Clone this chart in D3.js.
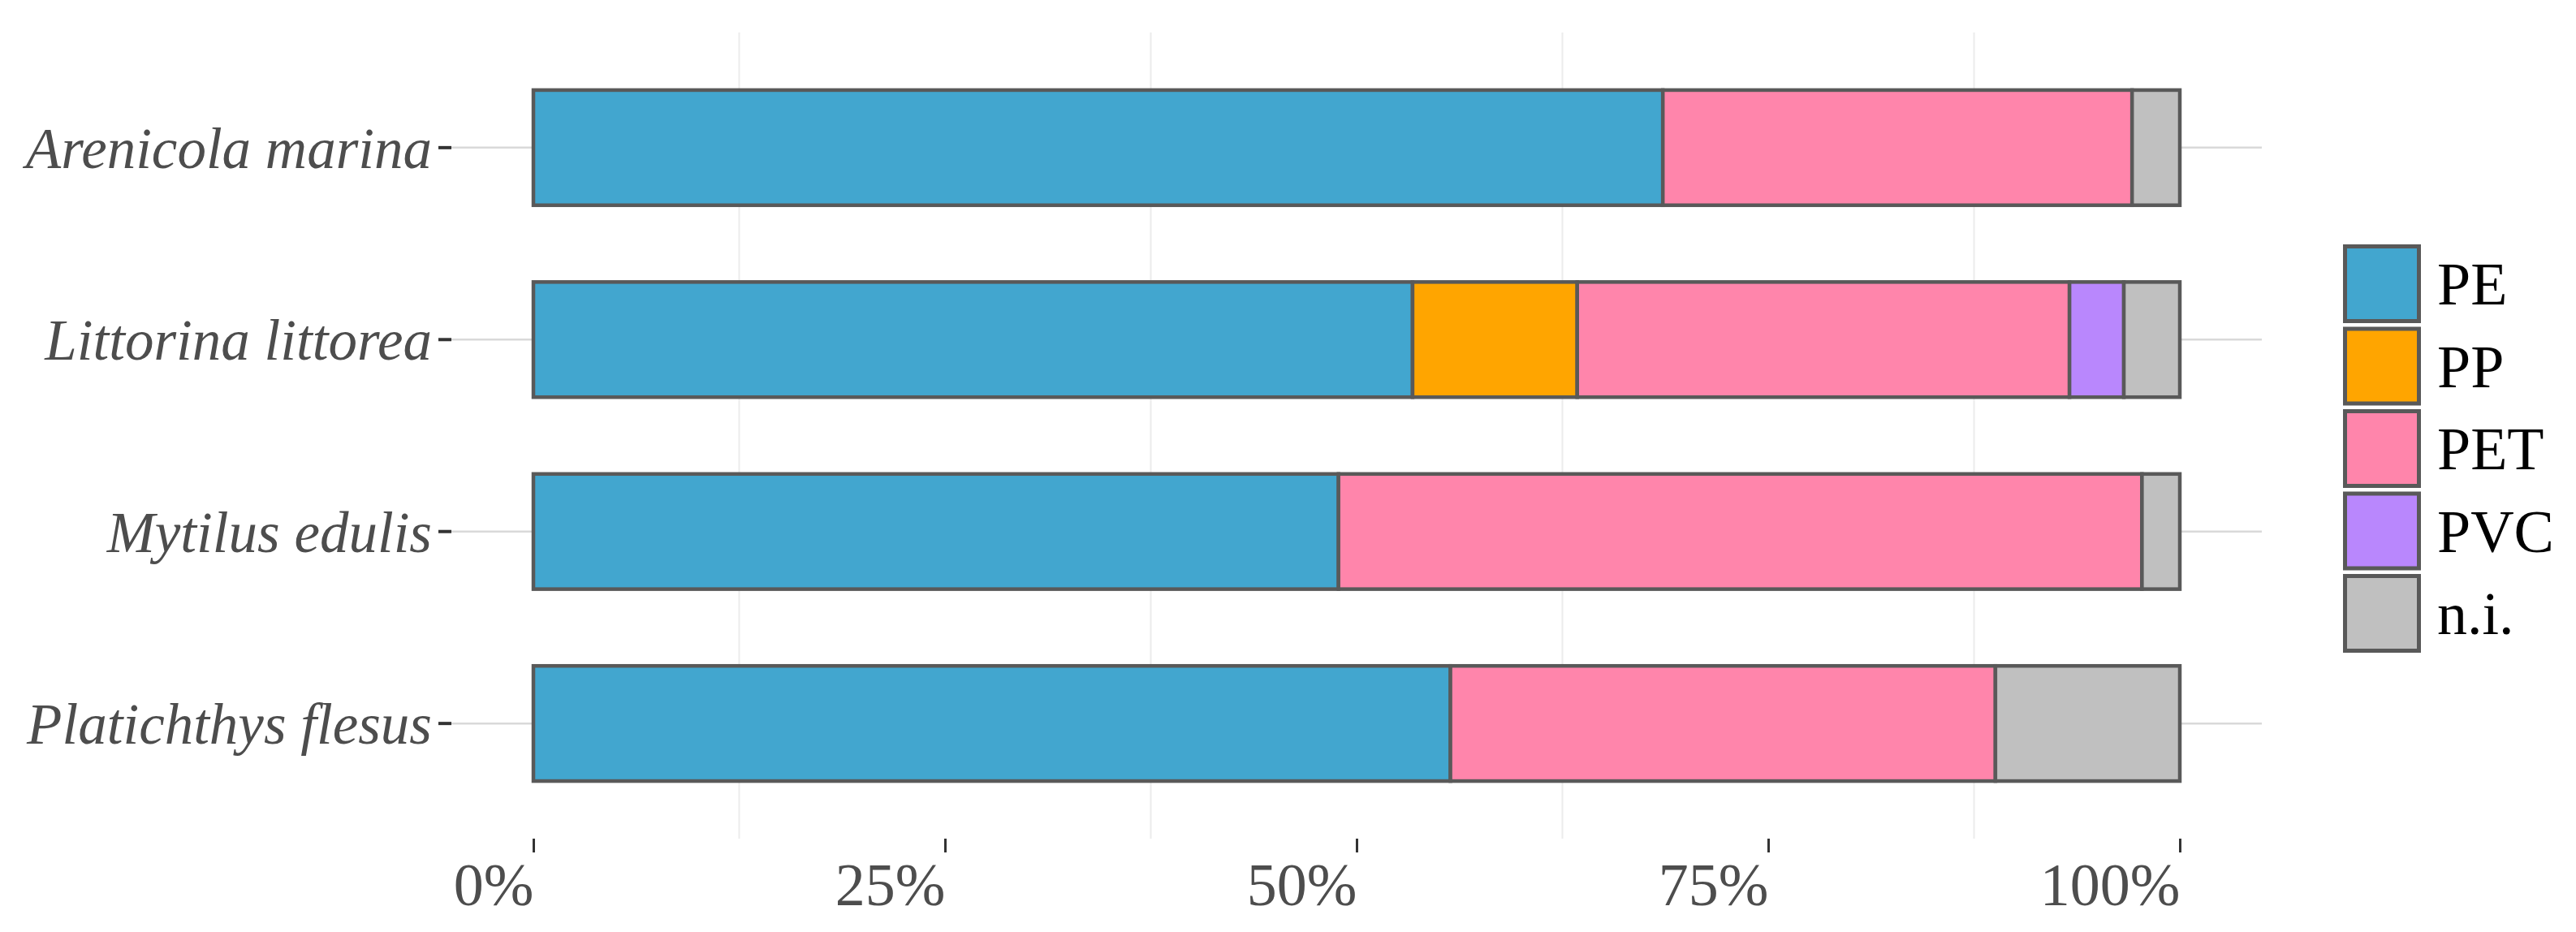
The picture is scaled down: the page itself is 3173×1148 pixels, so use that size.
<!DOCTYPE html>
<html>
<head>
<meta charset="utf-8">
<script src="https://cdn.jsdelivr.net/npm/d3@7"></script>
<style>
  html, body { margin: 0; padding: 0; background: #fff; }
  svg { display: block; }
</style>
</head>
<body>
<svg id="chart" width="3173" height="1148"></svg>
<script>
// ---- Data ----
const species = ["Arenicola marina", "Littorina littorea", "Mytilus edulis", "Platichthys flesus"];
const polymers = ["PE", "PP", "PET", "PVC", "n.i."];
const PE  = [68.6, 53.4, 48.9, 55.7];
const PP  = [0.0, 10.0, 0.0, 0.0];
const PET = [28.5, 29.9, 48.8, 33.1];
const PVC = [0.0, 3.3, 0.0, 0.0];
const NI  = [2.9, 3.4, 2.3, 11.2];
const xTicks = [0, 0.25, 0.5, 0.75, 1];
const minorTicks = [0.125, 0.375, 0.625, 0.875];
const colors = ["#42a6cf", "#ffa500", "#ff85ab", "#b987fd", "#c0c0c0"];

const seriesValues = [PE, PP, PET, PVC, NI];
const rows = species.map((s, i) => {
  const r = { species: s };
  polymers.forEach((p, j) => { r[p] = seriesValues[j][i]; });
  return r;
});

// ---- Layout ----
const svg = d3.select("#chart");
const panel = { left: 556, right: 2786, top: 40, bottom: 1033 };

const x = d3.scaleLinear().domain([0, 100]).range([657, 2685]);
const y = d3.scaleBand().domain(species).range([panel.top, panel.bottom])
  .paddingInner(0.4).paddingOuter(0.3);
const color = d3.scaleOrdinal().domain(polymers).range(colors);

// grid: minor verticals
svg.append("g").selectAll("line").data(minorTicks).join("line")
  .attr("x1", d => x(d * 100)).attr("x2", d => x(d * 100))
  .attr("y1", panel.top).attr("y2", panel.bottom)
  .attr("stroke", "#ececec").attr("stroke-width", 2);

// grid: horizontal at categories
svg.append("g").selectAll("line").data(species).join("line")
  .attr("x1", panel.left).attr("x2", panel.right)
  .attr("y1", d => y(d) + y.bandwidth() / 2).attr("y2", d => y(d) + y.bandwidth() / 2)
  .attr("stroke", "#d9d9d9").attr("stroke-width", 2.5);

// stacked bars
const stack = d3.stack().keys(polymers);
const stacked = stack(rows);
const gBars = svg.append("g");
stacked.forEach(layer => {
  gBars.append("g").selectAll("rect")
    .data(layer.filter(d => d[1] - d[0] > 0))
    .join("rect")
    .attr("x", d => x(d[0]))
    .attr("width", d => x(d[1]) - x(d[0]))
    .attr("y", d => y(d.data.species))
    .attr("height", y.bandwidth())
    .attr("fill", color(layer.key))
    .attr("stroke", "#595959")
    .attr("stroke-width", 4.5);
});

// x axis
const xAxis = d3.axisBottom(x)
  .tickValues(xTicks.map(v => v * 100))
  .tickFormat(d => d + "%")
  .tickSize(17);
const gx = svg.append("g").attr("transform", `translate(0,${panel.bottom})`).call(xAxis);
gx.select(".domain").remove();
gx.selectAll(".tick line").attr("stroke", "#333").attr("stroke-width", 3);
gx.selectAll(".tick text")
  .attr("y", 82).attr("dy", 0)
  .attr("text-anchor", "end")
  .attr("fill", "#4d4d4d")
  .style("font-family", "'Liberation Serif', serif")
  .style("font-size", "74px");

// y axis
const yAxis = d3.axisLeft(y).tickSize(16).tickPadding(8);
const gy = svg.append("g").attr("transform", `translate(${panel.left},0)`).call(yAxis);
gy.select(".domain").remove();
gy.selectAll(".tick line").attr("stroke", "#333").attr("stroke-width", 4);
gy.selectAll(".tick text")
  .attr("dy", "0.35em")
  .attr("fill", "#4d4d4d")
  .style("font-family", "'Liberation Serif', serif")
  .style("font-style", "italic")
  .style("font-size", "71px");

// legend
const legend = svg.append("g").attr("transform", "translate(2886,301)");
const keyH = 97, pitch = 101.5, keyW = 96;
const items = legend.selectAll("g").data(polymers).join("g")
  .attr("transform", (d, i) => `translate(0,${i * pitch})`);
items.append("rect")
  .attr("x", 2.5).attr("y", 2.5)
  .attr("width", keyW - 5).attr("height", keyH - 5)
  .attr("fill", d => color(d))
  .attr("stroke", "#595959").attr("stroke-width", 5);
items.append("text")
  .attr("x", 116).attr("y", keyH / 2).attr("dy", "0.35em")
  .attr("fill", "#000")
  .style("font-family", "'Liberation Serif', serif")
  .style("font-size", "74px")
  .text(d => d);
</script>
</body>
</html>
